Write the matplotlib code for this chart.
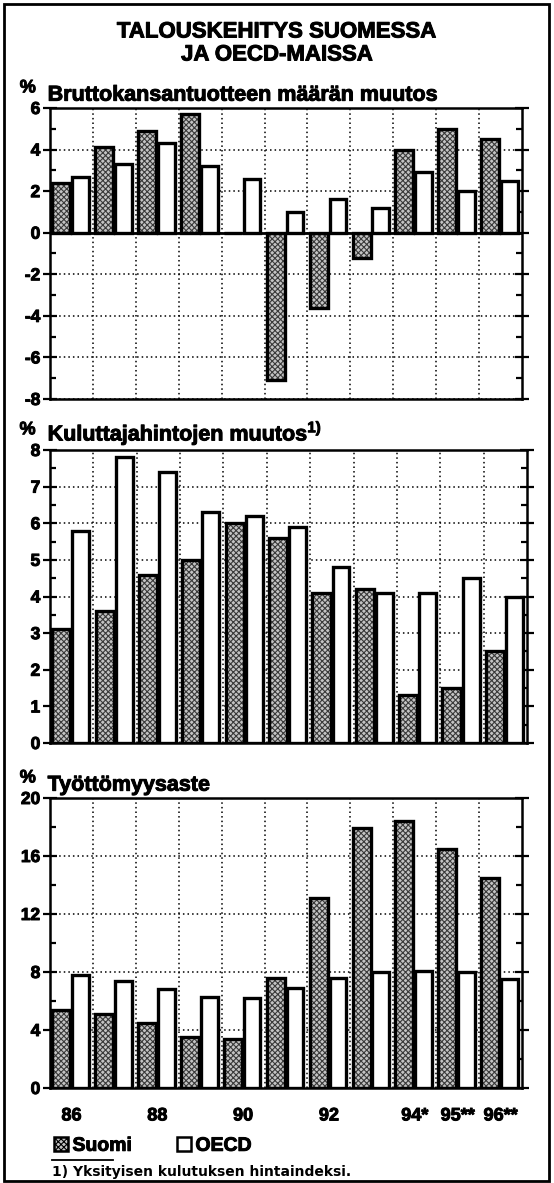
import matplotlib
matplotlib.use("Agg")
import matplotlib.pyplot as plt
import matplotlib.patheffects as pe
from matplotlib.patches import Patch, Rectangle
from matplotlib.lines import Line2D
from matplotlib.ticker import MultipleLocator
import numpy as np

plt.rcParams['font.family'] = ['Liberation Sans', 'DejaVu Sans']
plt.rcParams['font.weight'] = 'bold'
plt.rcParams['mathtext.fontset'] = 'custom'
plt.rcParams['mathtext.bf'] = 'Liberation Sans:bold'
plt.rcParams['mathtext.rm'] = 'Liberation Sans:bold'
plt.rcParams['hatch.linewidth'] = 0.8
plt.rcParams['axes.unicode_minus'] = False

years = ['86', '87', '88', '89', '90', '91', '92', '93', '94*', '95**', '96**']
tick_years = ['86', '88', '90', '92', '94*', '95**', '96**']

gdp_suomi = [2.4, 4.1, 4.9, 5.7, 0.0, -7.1, -3.6, -1.2, 4.0, 5.0, 4.5]
gdp_oecd = [2.7, 3.3, 4.3, 3.2, 2.6, 1.0, 1.6, 1.2, 2.9, 2.0, 2.5]

cpi_suomi = [3.1, 3.6, 4.6, 5.0, 6.0, 5.6, 4.1, 4.2, 1.3, 1.5, 2.5]
cpi_oecd = [5.8, 7.8, 7.4, 6.3, 6.2, 5.9, 4.8, 4.1, 4.1, 4.5, 4.0]

unemp_suomi = [5.4, 5.1, 4.5, 3.5, 3.4, 7.6, 13.1, 17.9, 18.4, 16.5, 14.5]
unemp_oecd = [7.8, 7.4, 6.8, 6.3, 6.2, 6.9, 7.6, 8.0, 8.1, 8.0, 7.5]

title_lines = ['TALOUSKEHITYS SUOMESSA', 'JA OECD-MAISSA']
panel_titles = ['Bruttokansantuotteen määrän muutos',
                r'Kuluttajahintojen muutos$^{\mathbf{1)}}$',
                'Työttömyysaste']
legend_labels = ['Suomi', 'OECD']
footnote = '1) Yksityisen kulutuksen hintaindeksi.'

W, H = 554, 1183
fig = plt.figure(figsize=(W / 100, H / 100), dpi=100)
fig.patch.set_facecolor('white')

heavy = [pe.withStroke(linewidth=0.7, foreground='black')]

def frac_rect(left, right, top, bottom):
    return [left / W, 1 - bottom / H, (right - left) / W, (bottom - top) / H]

panels = [
    dict(rect=frac_rect(50, 522, 108, 399), s=gdp_suomi, o=gdp_oecd,
         ylim=(-8, 6), major=2, minor=1, title=panel_titles[0]),
    dict(rect=frac_rect(50, 527, 450, 743), s=cpi_suomi, o=cpi_oecd,
         ylim=(0, 8), major=1, minor=0.5, title=panel_titles[1]),
    dict(rect=frac_rect(50, 522, 798, 1088), s=unemp_suomi, o=unemp_oecd,
         ylim=(0, 20), major=4, minor=2, title=panel_titles[2]),
]

SUOMI_FACE = '#c4c4c4'
SUOMI_HATCH = '#3a3a3a'

x = np.arange(len(years))
for k, p in enumerate(panels):
    ax = fig.add_axes(p['rect'])
    ax.set_xlim(-0.5, len(years) - 0.5)
    ax.set_ylim(*p['ylim'])
    ax.set_axisbelow(True)
    ax.bar(x - 0.24, p['s'], width=0.42, color=SUOMI_FACE, hatch='xxxxxx',
           edgecolor=SUOMI_HATCH, linewidth=0, zorder=2)
    ax.bar(x - 0.24, p['s'], width=0.42, fill=False,
           edgecolor='black', linewidth=2.4, zorder=3)
    ax.bar(x + 0.21, p['o'], width=0.39, color='white',
           edgecolor='black', linewidth=2.4, zorder=3)
    if p['ylim'][0] < 0:
        ax.axhline(0, color='black', linewidth=2.0, zorder=4)
    ax.yaxis.set_major_locator(MultipleLocator(p['major']))
    ax.yaxis.set_minor_locator(MultipleLocator(p['minor']))
    ax.set_xticks(np.arange(len(years) - 1) + 0.5, minor=True)
    ax.grid(True, which='major', axis='y', color='black', linestyle=(0, (1, 2)), linewidth=1.1)
    ax.grid(True, which='minor', axis='x', color='black', linestyle=(0, (1, 2)), linewidth=1.1)
    ax.tick_params(axis='y', which='major', direction='inout', length=10, width=1.6,
                   left=True, right=True, labelsize=12.5, pad=2)
    ax.tick_params(axis='y', which='minor', direction='in', length=4, width=1.6,
                   left=True, right=True)
    ax.tick_params(axis='x', which='both', length=0)
    for sp in ax.spines.values():
        sp.set_linewidth(1.8)
    if k == 2:
        ax.set_xticks([0, 2, 4, 6, 8, 9, 10])
        ax.set_xticklabels(tick_years, fontsize=13, fontweight='bold')
        ax.tick_params(axis='x', which='major', pad=14)
        for lbl in ax.get_xticklabels():
            lbl.set_path_effects(heavy)
    else:
        ax.set_xticks([])
    for lbl in ax.get_yticklabels():
        lbl.set_fontweight('bold')
        lbl.set_path_effects(heavy)
    ax.text(-0.005, 1.008, p['title'], transform=ax.transAxes, fontsize=15.5,
            fontweight='bold', ha='left', va='bottom', path_effects=heavy)
    ax.text(-0.047, 1.04, '%', transform=ax.transAxes, fontsize=13,
            fontweight='bold', ha='center', va='bottom', path_effects=heavy)

fig.text(0.5, 1 - 32 / H, title_lines[0], fontsize=16, fontweight='bold',
         ha='center', va='center', path_effects=heavy)
fig.text(0.5, 1 - 55 / H, title_lines[1], fontsize=16, fontweight='bold',
         ha='center', va='center', path_effects=heavy)

handles = [Patch(facecolor=SUOMI_FACE, hatch='xxxxxx', edgecolor='black', linewidth=1.8),
           Patch(facecolor='white', edgecolor='black', linewidth=1.8)]
leg = fig.legend(handles, legend_labels, loc='center left',
                 bbox_to_anchor=(54 / W, 1 - 1146 / H), ncol=2, frameon=False,
                 fontsize=14, handlelength=0.7, handleheight=0.7,
                 handletextpad=0.25, columnspacing=2.3, borderpad=0, borderaxespad=0)
for t in leg.get_texts():
    t.set_fontweight('bold')
    t.set_path_effects(heavy)

fig.add_artist(Line2D([52 / W, 113 / W], [1 - 1160 / H, 1 - 1160 / H],
                      color='black', linewidth=1.3))
fig.text(52 / W, 1 - 1172 / H, footnote, fontsize=10, fontweight='bold',
         family=['DejaVu Sans'], ha='left', va='center')

fig.add_artist(Rectangle((4 / W, 2 / H), 545 / W, 1177 / H, transform=fig.transFigure,
                         fill=False, edgecolor='black', linewidth=2))

fig.savefig('out.png', dpi=100)
